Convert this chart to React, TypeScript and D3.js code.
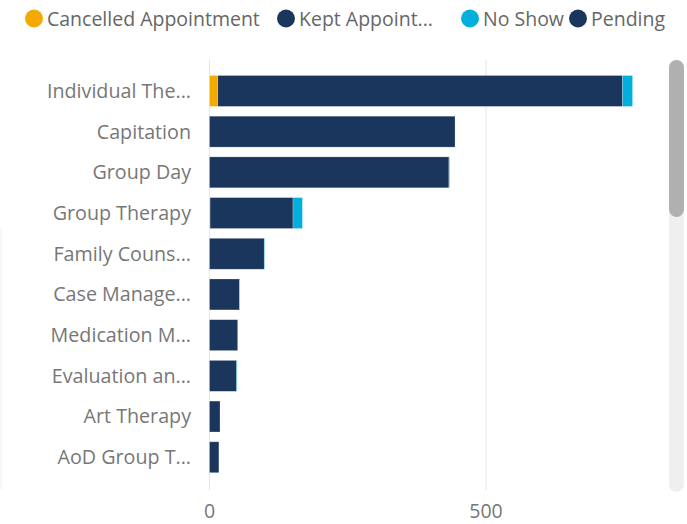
import React from "react";
import * as d3 from "d3";

const categories = [
  "Individual The...",
  "Capitation",
  "Group Day",
  "Group Therapy",
  "Family Couns...",
  "Case Manage...",
  "Medication M...",
  "Evaluation an...",
  "Art Therapy",
  "AoD Group T...",
];
const seriesNames = ["Cancelled Appointment", "Kept Appoint...", "No Show", "Pending"];
const seriesColors = ["#F2A900", "#1B365D", "#00B0DA", "#1B365D"];
const cancelled = [15, 0, 0, 1, 0, 0, 0, 0, 0, 0];
const kept = [732, 444, 433, 150, 99, 54, 51, 49, 19, 17];
const noShow = [18, 0, 1, 17, 1, 1, 0, 1, 0, 0];
const pending = [0, 0, 0, 0, 0, 0, 0, 0, 0, 0];
const xTicks = [0, 500];

const FONT = "'Segoe UI', 'Open Sans', sans-serif";

export default function App() {
  const W = 687, H = 524;
  const x = d3.scaleLinear().domain([0, 500]).range([209.5, 486]);
  const y = d3
    .scaleBand<string>()
    .domain(categories)
    .range([70.6, 477.6])
    .paddingInner(0.24)
    .paddingOuter(0.12);

  const rows = categories.map((c, i) => ({
    cat: c,
    v0: cancelled[i],
    v1: kept[i],
    v2: noShow[i],
    v3: pending[i],
  }));
  const stack = d3.stack<any>().keys(["v0", "v1", "v2", "v3"]);
  const layers = stack(rows);

  const legendX = [25, 277, 461, 569];

  return (
    <svg
      width={W}
      height={H}
      style={{ position: "absolute", left: 0, top: 0, background: "#fff" }}
      fontFamily={FONT}
    >
      {/* legend */}
      {seriesNames.map((n, i) => (
        <g key={n}>
          <circle cx={legendX[i] + 9} cy={18.5} r={9} fill={seriesColors[i]} />
          <text x={legendX[i] + 22} y={25.5} fontSize={19.5} fill="#666">
            {n}
          </text>
        </g>
      ))}
      {/* faint left line */}
      <line x1={1} x2={1} y1={228} y2={490} stroke="#f2f2f2" strokeWidth={1} />
      {/* gridlines */}
      {xTicks.map((t) => (
        <line key={t} x1={x(t)} x2={x(t)} y1={60} y2={490} stroke="#e6e6e6" strokeWidth={1} />
      ))}
      {/* bars */}
      {layers.map((layer, li) => (
        <g key={li} fill={seriesColors[li]}>
          {layer.map((d, i) =>
            d[1] - d[0] > 0 ? (
              <rect
                key={i}
                x={x(d[0])}
                y={y(categories[i])}
                width={x(d[1]) - x(d[0])}
                height={y.bandwidth()}
                stroke="#ffffff"
                strokeOpacity={0.4}
                strokeWidth={0.6}
              />
            ) : null
          )}
        </g>
      ))}
      {/* category labels */}
      {categories.map((c) => (
        <text
          key={c}
          x={191}
          y={(y(c) as number) + y.bandwidth() / 2}
          dy="0.35em"
          textAnchor="end"
          fontSize={19.7}
          fill="#777"
        >
          {c}
        </text>
      ))}
      {/* x tick labels */}
      {xTicks.map((t) => (
        <text key={t} x={x(t)} y={518} textAnchor="middle" fontSize={19.5} fill="#777">
          {t}
        </text>
      ))}
      {/* scrollbar */}
      <rect x={669} y={60} width={15} height={432} rx={7.5} fill="#efefef" />
      <rect x={669} y={60} width={15} height={157} rx={7.5} fill="#b0b0b0" />
    </svg>
  );
}
